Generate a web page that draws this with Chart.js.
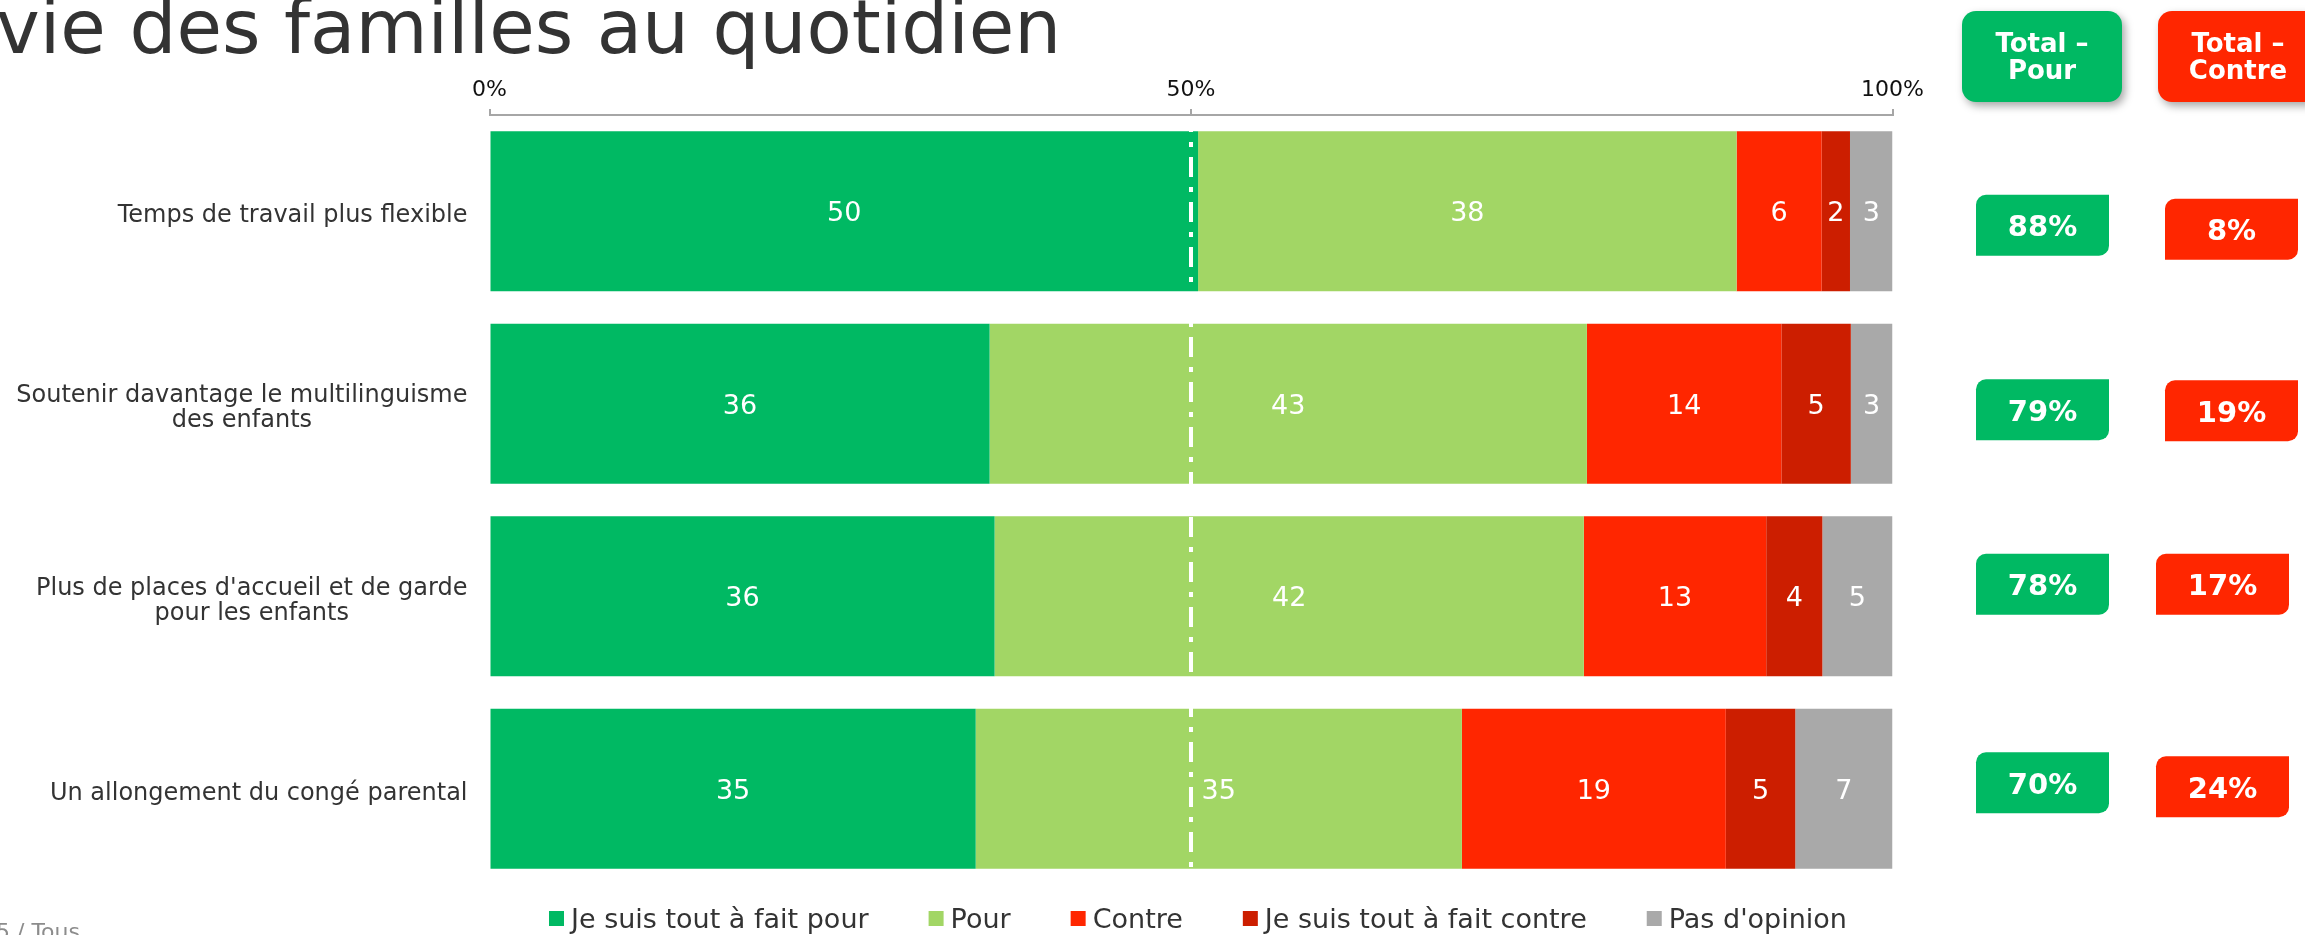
<!DOCTYPE html>
<html>
<head>
<meta charset="utf-8">
<script src="https://cdn.jsdelivr.net/npm/chart.js@4.4.1/dist/chart.umd.min.js"></script>
<style>
html,body{margin:0;padding:0;background:#ffffff;overflow:hidden;}
#wrap{width:2305px;height:935px;position:relative;}
canvas{display:block;}
</style>
</head>
<body>
<div id="wrap"><canvas id="c" width="2305" height="935"></canvas></div>
<script>
// ---------- DATA ----------
const titleText = "vie des familles au quotidien";
const footnoteText = "5 / Tous";
const categories = [
  ["Temps de travail plus flexible"],
  ["Soutenir davantage le multilinguisme", "des enfants"],
  ["Plus de places d'accueil et de garde", "pour les enfants"],
  ["Un allongement du congé parental"]
];
const seriesNames = ["Je suis tout à fait pour", "Pour", "Contre", "Je suis tout à fait contre", "Pas d'opinion"];
const toutAFaitPour   = [50, 36, 36, 35];
const pour            = [38, 43, 42, 35];
const contre          = [6, 14, 13, 19];
const toutAFaitContre = [2, 5, 4, 5];
const pasDOpinion     = [3, 3, 5, 7];
const totalPour   = [88, 79, 78, 70];
const totalContre = [8, 19, 17, 24];
const xTickValues = [0, 50, 100];
const headerPour = ["Total –", "Pour"];
const headerContre = ["Total –", "Contre"];

// ---------- STYLE / LAYOUT ----------
const FONT = "'DejaVu Sans', Verdana, sans-serif";
const seriesColors = ["#00B963", "#A2D665", "#FF2600", "#CC1E00", "#A9A9A9"];
const GREEN = "#00B963", RED = "#FF2600";
const greenNudge = [14, 6, -12, -6];
const redNudge = [18, 7, -12, -2];
const redBoxX = [2165, 2165, 2156, 2156];

const seriesValues = [toutAFaitPour, pour, contre, toutAFaitContre, pasDOpinion];
const rowTotals = categories.map((_, i) => seriesValues.reduce((s, arr) => s + arr[i], 0));

function diagRoundRect(ctx, x, y, w, h, r) {
  ctx.beginPath();
  ctx.moveTo(x + r, y);
  ctx.lineTo(x + w, y);
  ctx.lineTo(x + w, y + h - r);
  ctx.arcTo(x + w, y + h, x + w - r, y + h, r);
  ctx.lineTo(x, y + h);
  ctx.lineTo(x, y + r);
  ctx.arcTo(x, y, x + r, y, r);
  ctx.closePath();
}
function fullRoundRect(ctx, x, y, w, h, r) {
  ctx.beginPath();
  ctx.moveTo(x + r, y);
  ctx.arcTo(x + w, y, x + w, y + h, r);
  ctx.arcTo(x + w, y + h, x, y + h, r);
  ctx.arcTo(x, y + h, x, y, r);
  ctx.arcTo(x, y, x + w, y, r);
  ctx.closePath();
}

const overlay = {
  id: 'overlay',
  afterDatasetsDraw(chart) {
    const ctx = chart.ctx, xs = chart.scales.x, ca = chart.chartArea;
    // 50% dash-dot reference line
    ctx.save();
    ctx.strokeStyle = '#ffffff';
    ctx.lineWidth = 4;
    ctx.setLineDash([20, 10, 5, 10]);
    ctx.lineDashOffset = 5;
    const x50 = Math.round(xs.getPixelForValue(50));
    ctx.beginPath();
    ctx.moveTo(x50, ca.top + 2);
    ctx.lineTo(x50, ca.bottom);
    ctx.stroke();
    ctx.restore();
    // values inside segments
    ctx.save();
    ctx.fillStyle = '#ffffff';
    ctx.font = "27px " + FONT;
    ctx.textAlign = 'center';
    ctx.textBaseline = 'middle';
    chart.data.datasets.forEach((ds, di) => {
      const meta = chart.getDatasetMeta(di);
      meta.data.forEach((el, i) => {
        const v = seriesValues[di][i];
        const cx = (el.base + el.x) / 2;
        ctx.fillText(String(v), cx, el.y + 3);
      });
    });
    ctx.restore();
  },
  afterDraw(chart) {
    const ctx = chart.ctx, ys = chart.scales.y, ca = chart.chartArea;
    ctx.save();
    // Title
    ctx.fillStyle = '#333333';
    ctx.font = "74px " + FONT;
    ctx.textAlign = 'left';
    ctx.textBaseline = 'alphabetic';
    ctx.fillText(titleText, -4, 53);

    // Category labels (block right-aligned, lines centred)
    ctx.font = "24px " + FONT;
    ctx.fillStyle = '#333333';
    ctx.textAlign = 'center';
    const rightEdge = ca.left - 22;
    categories.forEach((lines, i) => {
      const cy = ys.getPixelForValue(i);
      const bw = Math.max(...lines.map(l => ctx.measureText(l).width));
      const cx = rightEdge - bw / 2;
      lines.forEach((l, k) => {
        const by = cy + 11 + (k - (lines.length - 1) / 2) * 25;
        ctx.fillText(l, cx, by);
      });
    });

    // Legend
    ctx.font = "27px " + FONT;
    ctx.textAlign = 'left';
    ctx.fillStyle = '#333333';
    let lx = ca.left + 59.5;
    seriesNames.forEach((name, i) => {
      ctx.fillStyle = seriesColors[i];
      ctx.fillRect(lx, 911, 15, 15);
      ctx.fillStyle = '#333333';
      ctx.fillText(name, lx + 22, 928);
      lx += 22 + ctx.measureText(name).width + 60;
    });

    // Header boxes
    ctx.save();
    ctx.shadowColor = 'rgba(0,0,0,0.35)';
    ctx.shadowBlur = 8;
    ctx.shadowOffsetX = 3;
    ctx.shadowOffsetY = 4;
    ctx.fillStyle = GREEN;
    fullRoundRect(ctx, 1962, 11, 160, 91, 14);
    ctx.fill();
    ctx.fillStyle = RED;
    fullRoundRect(ctx, 2158, 11, 160, 91, 14);
    ctx.fill();
    ctx.restore();
    ctx.fillStyle = '#ffffff';
    ctx.font = "bold 26px " + FONT;
    ctx.textAlign = 'center';
    ctx.fillText(headerPour[0], 2042, 52);
    ctx.fillText(headerPour[1], 2042, 79);
    ctx.fillText(headerContre[0], 2238, 52);
    ctx.fillText(headerContre[1], 2238, 79);

    // Value boxes
    ctx.font = "bold 29px " + FONT;
    categories.forEach((_, i) => {
      const cy = ys.getPixelForValue(i);
      const gy = cy + greenNudge[i];
      ctx.fillStyle = GREEN;
      diagRoundRect(ctx, 1976, gy - 30.5, 133, 61, 10);
      ctx.fill();
      ctx.fillStyle = '#ffffff';
      ctx.fillText(totalPour[i] + '%', 1976 + 66.5, gy + 11);
      const ry = cy + redNudge[i];
      ctx.fillStyle = RED;
      diagRoundRect(ctx, redBoxX[i], ry - 30.5, 133, 61, 10);
      ctx.fill();
      ctx.fillStyle = '#ffffff';
      ctx.fillText(totalContre[i] + '%', redBoxX[i] + 66.5, ry + 11);
    });

    // Footnote (cut by the bottom edge)
    ctx.font = "22px " + FONT;
    ctx.fillStyle = '#8c8c8c';
    ctx.textAlign = 'left';
    ctx.fillText(footnoteText, -4, 939);
    ctx.restore();
  }
};

const datasets = seriesNames.map((name, si) => ({
  label: name,
  data: seriesValues[si].map((v, i) => v / rowTotals[i] * 100),
  backgroundColor: seriesColors[si],
  borderWidth: 0,
  categoryPercentage: 1,
  barPercentage: 0.831
}));

new Chart(document.getElementById('c'), {
  type: 'bar',
  data: { labels: categories.map(c => c.join(' ')), datasets },
  options: {
    indexAxis: 'y',
    responsive: false,
    animation: false,
    devicePixelRatio: 1,
    layout: { padding: { left: 0, right: 412.5, top: 0, bottom: 50 } },
    plugins: { legend: { display: false }, tooltip: { enabled: false }, title: { display: false } },
    scales: {
      x: {
        position: 'top',
        stacked: true,
        min: 0, max: 100,
        afterFit(scale) { scale.height = 115; },
        afterBuildTicks(scale) { scale.ticks = xTickValues.map(v => ({ value: v })); },
        ticks: {
          callback: v => v + '%',
          font: { family: FONT, size: 22 },
          color: '#111111',
          padding: 6,
          maxRotation: 0
        },
        grid: { display: true, drawOnChartArea: false, drawTicks: true, tickLength: 6, color: '#A6A6A6', lineWidth: 2 },
        border: { display: true, color: '#A6A6A6', width: 2 }
      },
      y: {
        stacked: true,
        afterFit(scale) { scale.width = 489.5; },
        ticks: { display: false },
        grid: { display: false, drawTicks: false },
        border: { display: false }
      }
    }
  },
  plugins: [overlay]
});
</script>
</body>
</html>
